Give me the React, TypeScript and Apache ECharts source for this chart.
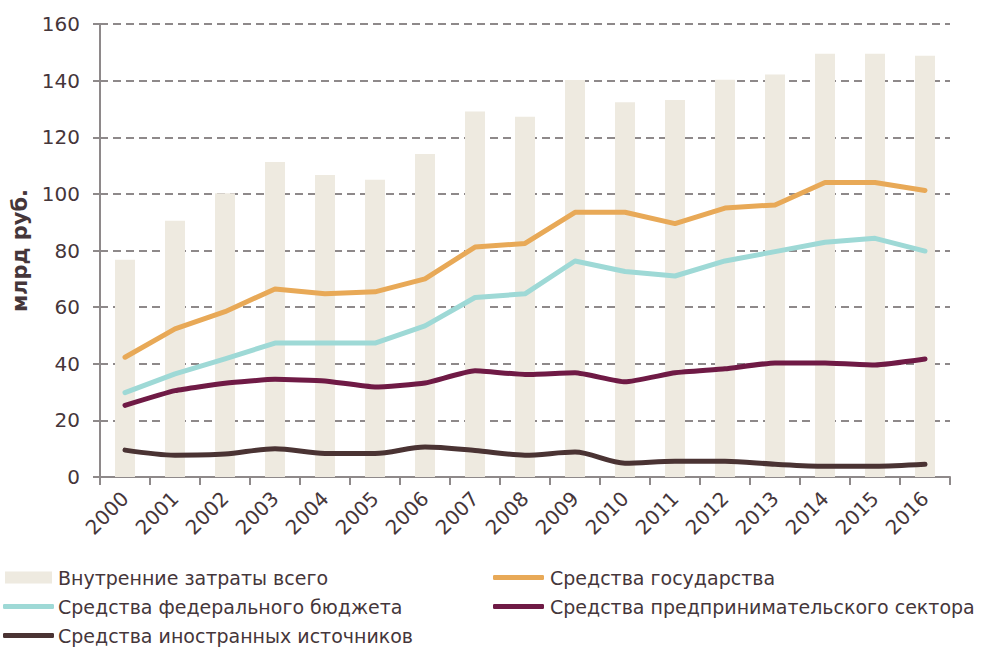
import React, { useEffect, useRef } from "react";
import * as echarts from "echarts";

const years = ["2000","2001","2002","2003","2004","2005","2006","2007","2008","2009","2010","2011","2012","2013","2014","2015","2016"];
const totalCosts = [76.7, 90.5, 100.2, 111.3, 106.7, 105, 114.1, 129.1, 127.2, 140.2, 132.4, 133.2, 140.3, 142.2, 149.5, 149.5, 148.8];
const stateFunds = [42.3, 52.3, 58.4, 66.4, 64.7, 65.4, 70, 81.2, 82.5, 93.5, 93.5, 89.5, 95, 96.1, 104, 104, 101.2];
const federalBudget = [29.8, 36.4, 41.7, 47.3, 47.3, 47.3, 53.4, 63.4, 64.7, 76.3, 72.6, 71, 76.3, 79.6, 82.9, 84.3, 79.8];
const businessFunds = [25.3, 30.5, 33.1, 34.5, 33.9, 31.8, 33.2, 37.5, 36.2, 36.8, 33.6, 36.8, 38.2, 40.3, 40.3, 39.6, 41.7];
const foreignFunds = [9.5, 7.7, 8.1, 10, 8.3, 8.3, 10.6, 9.4, 7.7, 8.8, 4.9, 5.6, 5.6, 4.5, 3.8, 3.8, 4.5];

const names = [
  "Внутренние затраты всего",
  "Средства государства",
  "Средства федерального бюджета",
  "Средства предпринимательского сектора",
  "Средства иностранных источников",
];

const textColor = "#45363a";
const gridColor = "#8e898a";
const fontFamily = "'DejaVu Sans', sans-serif";

export default function App() {
  const ref = useRef<HTMLDivElement>(null);
  useEffect(() => {
    if (!ref.current) return;
    const chart = echarts.init(ref.current, null, { renderer: "svg" });
    const legendText = { color: textColor, fontSize: 19, fontFamily };
    const mkLegend = (name: string, left: number, top: number, isBar: boolean, textPad: number, w: number) => ({
      data: [{ name, icon: isBar ? "rect" : "roundRect" }],
      left,
      top,
      orient: "horizontal",
      itemWidth: w,
      itemHeight: isBar ? 12 : 5,
      itemGap: 0,
      padding: 0,
      textStyle: { ...legendText, padding: [0, 0, 0, textPad] },
      selectedMode: false,
    });
    const lineSeries = (name: string, data: number[], color: string, smooth: number | boolean = false) => ({
      name,
      type: "line",
      data,
      symbol: "none",
      smooth,
      z: 3,
      lineStyle: { color, width: 5, cap: "round", join: "round" },
      itemStyle: { color },
    });
    chart.setOption({
      animation: false,
      textStyle: { fontFamily },
      grid: { left: 100, right: 32, top: 24, bottom: 174, containLabel: false },
      legend: [
        mkLegend(names[0], 5, 568, true, 1, 47),
        mkLegend(names[1], 493, 568, false, 1, 51),
        mkLegend(names[2], 3, 597, false, -1, 51),
        mkLegend(names[3], 493, 597, false, 1, 51),
        mkLegend(names[4], 3, 626, false, -1, 51),
      ],
      xAxis: {
        type: "category",
        data: years,
        boundaryGap: true,
        axisLine: { show: true, lineStyle: { color: gridColor, width: 2 } },
        axisTick: { show: true, length: 8, lineStyle: { color: gridColor, width: 2 } },
        axisLabel: { rotate: 45, color: textColor, fontSize: 20, margin: 18, interval: 0, fontFamily },
      },
      yAxis: {
        type: "value",
        min: 0,
        max: 160,
        interval: 20,
        name: "млрд руб.",
        nameLocation: "middle",
        nameRotate: 90,
        nameGap: 69,
        nameTextStyle: { color: textColor, fontSize: 21, fontWeight: "bold", fontFamily },
        axisLine: { show: true, lineStyle: { color: gridColor, width: 2 } },
        axisTick: { show: true, length: 7, lineStyle: { color: gridColor, width: 2 } },
        axisLabel: { color: textColor, fontSize: 20, margin: 20, fontFamily },
        splitLine: { show: true, lineStyle: { color: gridColor, width: 2, type: [8, 5] } },
      },
      series: [
        {
          name: names[0],
          type: "bar",
          data: totalCosts,
          barWidth: 20,
          z: 2,
          itemStyle: { color: "#eeeae0" },
        },
        lineSeries(names[1], stateFunds, "#e8a957"),
        lineSeries(names[2], federalBudget, "#9ed9d6"),
        lineSeries(names[3], businessFunds, "#6f1a45", 0.15),
        lineSeries(names[4], foreignFunds, "#4a3333", 0.3),
      ],
    });
    return () => chart.dispose();
  }, []);
  return (
    <div
      ref={ref}
      style={{ position: "fixed", left: 0, top: 0, width: 982, height: 651, background: "#ffffff" }}
    />
  );
}
